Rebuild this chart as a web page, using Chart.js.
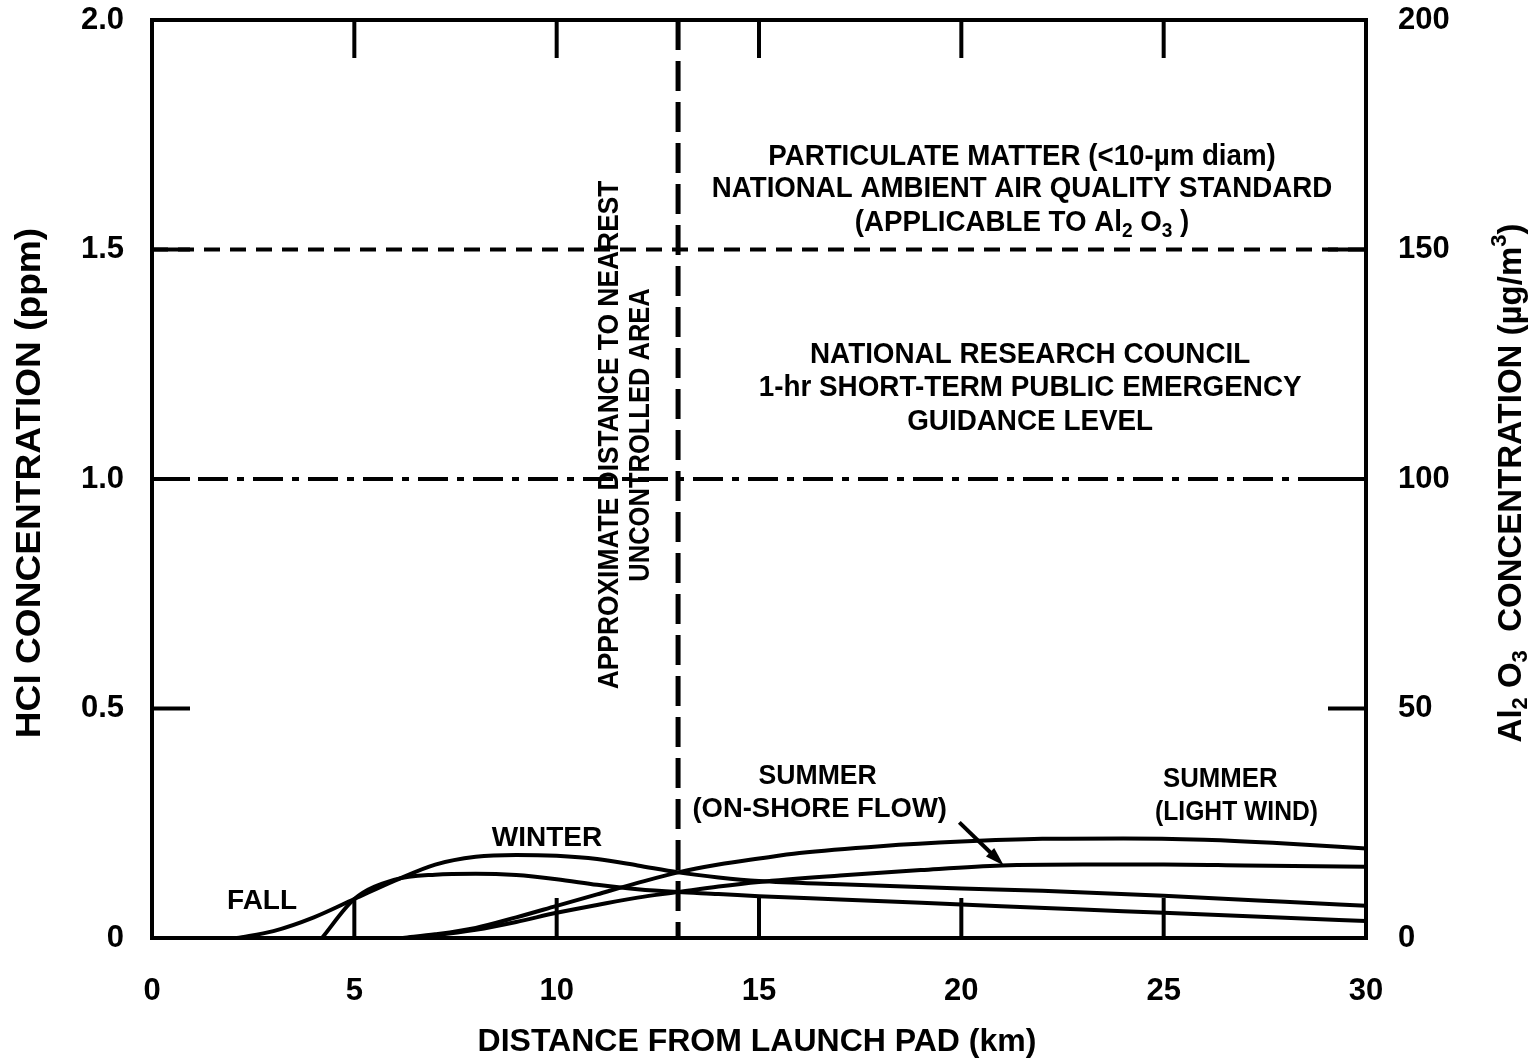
<!DOCTYPE html>
<html>
<head>
<meta charset="utf-8">
<title>HCl and Al2O3 concentration vs distance from launch pad</title>
<script src="https://cdn.jsdelivr.net/npm/chart.js@4.4.1/dist/chart.umd.min.js"></script>
<style>
  body { margin: 0; background: #fff; }
  canvas { display: block; }
</style>
</head>
<body>
<canvas id="plume" width="1536" height="1064"></canvas>
<script>
// DATA

const kmTicks = [0, 5, 10, 15, 20, 25, 30];
const hclTicks = [0, 0.5, 1.0, 1.5, 2.0];
const alTicks = [0, 50, 100, 150, 200];

const winterKm = [2.1, 3, 4, 5, 6, 7, 8, 9, 10, 11, 12, 13, 14, 15, 17, 20, 22, 25, 28, 30];
const winterPpm = [0, 0.015, 0.045, 0.085, 0.125, 0.16, 0.177, 0.181, 0.179, 0.172, 0.158, 0.143, 0.132, 0.124, 0.117, 0.108, 0.103, 0.092, 0.079, 0.07];

const fallKm = [4.2, 5, 6, 7, 8, 9, 10, 11, 12, 13, 14, 15, 17, 20, 23, 25, 28, 30];
const fallPpm = [0, 0.085, 0.127, 0.138, 0.14, 0.137, 0.128, 0.116, 0.106, 0.1, 0.096, 0.091, 0.084, 0.073, 0.062, 0.055, 0.044, 0.037];

const lightWindKm = [6.2, 7, 8, 9, 10, 11, 12, 13, 14, 15, 16, 18, 20, 22, 24, 26, 28, 30];
const lightWindPpm = [0, 0.008, 0.022, 0.045, 0.07, 0.095, 0.12, 0.143, 0.16, 0.173, 0.185, 0.2, 0.21, 0.216, 0.217, 0.214, 0.206, 0.195];

const onShoreKm = [6.3, 7, 8, 9, 10, 11, 12, 13, 14, 15, 17, 19, 21, 23, 25, 27, 30];
const onShorePpm = [0, 0.006, 0.018, 0.035, 0.055, 0.072, 0.088, 0.1, 0.112, 0.122, 0.136, 0.148, 0.158, 0.16, 0.16, 0.158, 0.155];

const pmStandard = 150;   // ug/m3, right axis
const nrcLevel = 1.0;     // ppm
const boundaryKm = 13;

// helpers

function pts(xs, ys) {
  return xs.map((x, i) => ({ x: x, y: ys[i] }));
}

function curve(label, xs, ys) {
  return {
    label: label,
    data: pts(xs, ys),
    borderColor: "#000",
    borderWidth: 4,
    pointRadius: 0,
    cubicInterpolationMode: "monotone",
    yAxisID: "y",
  };
}

const FONT = "'Liberation Sans', Arial, Helvetica, sans-serif";

function richText(ctx, segs, cx, cy, size, squeeze, angle) {
  ctx.save();
  ctx.translate(cx, cy);
  if (angle) ctx.rotate(angle);
  ctx.scale(squeeze, 1);
  let total = 0;
  const pieces = segs.map(function (s) {
    const small = s.sub || s.sup;
    const font = "bold " + (small ? Math.round(size * 0.68) : size) + "px " + FONT;
    ctx.font = font;
    const w = ctx.measureText(s.t).width;
    total += w;
    return { t: s.t, font: font, w: w, dy: s.sub ? size * 0.28 : s.sup ? -size * 0.38 : 0 };
  });
  let x = -total / 2;
  ctx.textBaseline = "middle";
  ctx.textAlign = "left";
  ctx.fillStyle = "#000";
  pieces.forEach(function (p) {
    ctx.font = p.font;
    ctx.fillText(p.t, x, p.dy);
    x += p.w;
  });
  ctx.restore();
}

// labels placed in data units (km, ppm)
const notes = [
  { km: 21.5, ppm: 1.702, size: 29, sq: 0.955, segs: [{ t: "PARTICULATE MATTER (<10-µm diam)" }] },
  { km: 21.5, ppm: 1.632, size: 29, sq: 0.955, segs: [{ t: "NATIONAL AMBIENT AIR QUALITY STANDARD" }] },
  { km: 21.5, ppm: 1.558, size: 29, sq: 0.955, segs: [{ t: "(APPLICABLE TO Al" }, { t: "2", sub: true }, { t: " O" }, { t: "3", sub: true }, { t: " )" }] },
  { km: 21.7, ppm: 1.27, size: 29, sq: 0.96, segs: [{ t: "NATIONAL RESEARCH COUNCIL" }] },
  { km: 21.7, ppm: 1.198, size: 29, sq: 0.96, segs: [{ t: "1-hr SHORT-TERM PUBLIC EMERGENCY" }] },
  { km: 21.7, ppm: 1.124, size: 29, sq: 0.96, segs: [{ t: "GUIDANCE LEVEL" }] },
  { km: 11.32, ppm: 1.096, size: 29, sq: 0.91, rot: -Math.PI / 2, segs: [{ t: "APPROXIMATE DISTANCE TO NEAREST" }] },
  { km: 12.08, ppm: 1.096, size: 29, sq: 0.88, rot: -Math.PI / 2, segs: [{ t: "UNCONTROLLED AREA" }] },
  { km: 9.76, ppm: 0.217, size: 28, sq: 1.0, segs: [{ t: "WINTER" }] },
  { km: 2.72, ppm: 0.081, size: 28, sq: 1.0, segs: [{ t: "FALL" }] },
  { km: 16.45, ppm: 0.353, size: 28, sq: 0.95, segs: [{ t: "SUMMER" }] },
  { km: 16.5, ppm: 0.281, size: 28, sq: 0.98, segs: [{ t: "(ON-SHORE FLOW)" }] },
  { km: 26.4, ppm: 0.345, size: 28, sq: 0.92, segs: [{ t: "SUMMER" }] },
  { km: 26.8, ppm: 0.273, size: 28, sq: 0.88, segs: [{ t: "(LIGHT WIND)" }] },
];

const arrowFrom = { km: 19.95, ppm: 0.252 };
const arrowTo = { km: 21.05, ppm: 0.158 };

// DRAW FRAME, INWARD TICKS, TITLES AND LABELS

const decorations = {
  id: "decorations",
  afterDraw(chart) {
    const ctx = chart.ctx;
    const a = chart.chartArea;
    const sx = chart.scales.x, sy = chart.scales.y, sy2 = chart.scales.y2;

    ctx.save();
    ctx.strokeStyle = "#000";
    ctx.lineWidth = 4;
    ctx.lineCap = "butt";

    function seg(x1, y1, x2, y2) {
      ctx.beginPath();
      ctx.moveTo(x1, y1);
      ctx.lineTo(x2, y2);
      ctx.stroke();
    }

    kmTicks.slice(1, -1).forEach(function (v) {
      const px = sx.getPixelForValue(v);
      seg(px, a.top, px, a.top + 38);
      seg(px, a.bottom, px, a.bottom - 40);
    });
    hclTicks.slice(1, -1).forEach(function (v) {
      const py = sy.getPixelForValue(v);
      seg(a.left, py, a.left + 38, py);
    });
    alTicks.slice(1, -1).forEach(function (v) {
      const py = sy2.getPixelForValue(v);
      seg(a.right, py, a.right - 38, py);
    });

    ctx.strokeRect(a.left, a.top, a.right - a.left, a.bottom - a.top);

    // arrow to the on-shore curve
    const x1 = sx.getPixelForValue(arrowFrom.km), y1 = sy.getPixelForValue(arrowFrom.ppm);
    const x2 = sx.getPixelForValue(arrowTo.km), y2 = sy.getPixelForValue(arrowTo.ppm);
    const ang = Math.atan2(y2 - y1, x2 - x1);
    seg(x1, y1, x2 - 14 * Math.cos(ang), y2 - 14 * Math.sin(ang));
    ctx.beginPath();
    ctx.moveTo(x2, y2);
    ctx.lineTo(x2 - 20 * Math.cos(ang - 0.3), y2 - 20 * Math.sin(ang - 0.3));
    ctx.lineTo(x2 - 20 * Math.cos(ang + 0.3), y2 - 20 * Math.sin(ang + 0.3));
    ctx.closePath();
    ctx.fillStyle = "#000";
    ctx.fill();
    ctx.restore();

    notes.forEach(function (n) {
      richText(ctx, n.segs, sx.getPixelForValue(n.km), sy.getPixelForValue(n.ppm), n.size, n.sq, n.rot || 0);
    });

    // axis titles
    const midY = (a.top + a.bottom) / 2;
    richText(ctx, [{ t: "HCl CONCENTRATION (ppm)" }], a.left - 122, midY + 4, 35, 1.06, -Math.PI / 2);
    richText(ctx, [{ t: "DISTANCE FROM LAUNCH PAD (km)" }], (a.left + a.right) / 2 - 2, a.bottom + 104, 32, 1.0, 0);
    richText(ctx, [
      { t: "Al" }, { t: "2", sub: true }, { t: " O" }, { t: "3", sub: true },
      { t: "  CONCENTRATION (µg/m" }, { t: "3", sup: true }, { t: ")" },
    ], a.right + 146, midY + 4, 33, 1.0, -Math.PI / 2);
  },
};

const tickFont = { family: FONT, size: 31, weight: "bold" };

function noPad(s) {
  s.paddingTop = 0;
  s.paddingBottom = 0;
}

new Chart(document.getElementById("plume"), {
  type: "line",
  data: {
    datasets: [
      curve("Winter", winterKm, winterPpm),
      curve("Fall", fallKm, fallPpm),
      curve("Summer (light wind)", lightWindKm, lightWindPpm),
      curve("Summer (on-shore flow)", onShoreKm, onShorePpm),
      {
        label: "PM10 standard",
        data: [{ x: 0, y: pmStandard }, { x: 30, y: pmStandard }],
        borderColor: "#000",
        borderWidth: 4,
        borderDash: [16, 10],
        pointRadius: 0,
        yAxisID: "y2",
      },
      {
        label: "NRC guidance level",
        data: [{ x: 0, y: nrcLevel }, { x: 30, y: nrcLevel }],
        borderColor: "#000",
        borderWidth: 4,
        borderDash: [30, 9, 7, 9],
        borderDashOffset: -46,
        pointRadius: 0,
        yAxisID: "y",
      },
      {
        label: "Uncontrolled area",
        data: [{ x: boundaryKm, y: 2.0 }, { x: boundaryKm, y: 0 }],
        borderColor: "#000",
        borderWidth: 5,
        borderDash: [30, 11],
        pointRadius: 0,
        yAxisID: "y",
      },
    ],
  },
  options: {
    responsive: false,
    animation: false,
    devicePixelRatio: 1,
    layout: { padding: { top: 20, left: 0, right: 0, bottom: 0 } },
    plugins: {
      legend: { display: false },
      tooltip: { enabled: false },
    },
    scales: {
      x: {
        type: "linear",
        min: 0,
        max: 30,
        afterBuildTicks: (s) => { s.ticks = kmTicks.map((v) => ({ value: v })); },
        afterFit: (s) => { s.height = 126; },
        grid: { display: false, drawTicks: false },
        border: { display: false },
        ticks: { color: "#000", font: tickFont, padding: 35, maxRotation: 0 },
      },
      y: {
        position: "left",
        min: 0,
        max: 2,
        afterBuildTicks: (s) => { s.ticks = hclTicks.map((v) => ({ value: v })); },
        afterFit: (s) => { s.width = 152; noPad(s); },
        grid: { display: false, drawTicks: false },
        border: { display: false },
        ticks: {
          color: "#000",
          font: tickFont,
          padding: 28,
          callback: (v) => (v === 0 ? "0" : v.toFixed(1)),
        },
      },
      y2: {
        position: "right",
        min: 0,
        max: 200,
        afterBuildTicks: (s) => { s.ticks = alTicks.map((v) => ({ value: v })); },
        afterFit: (s) => { s.width = 170; noPad(s); },
        grid: { display: false, drawTicks: false },
        border: { display: false },
        ticks: { color: "#000", font: tickFont, padding: 32 },
      },
    },
  },
  plugins: [decorations],
});
</script>
</body>
</html>
